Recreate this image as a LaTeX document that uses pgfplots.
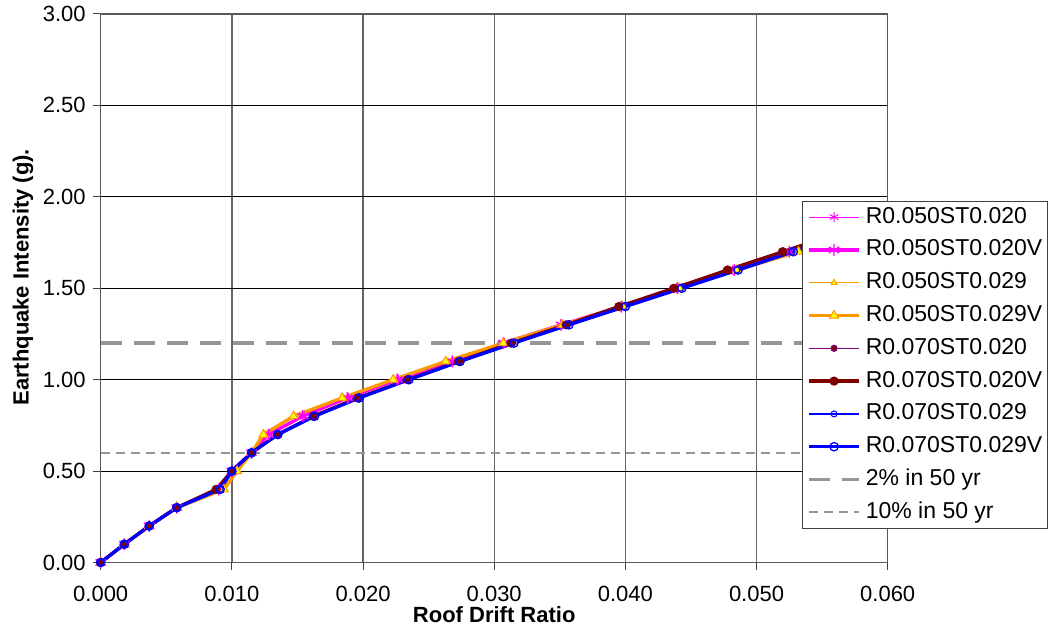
\documentclass[border=0pt]{standalone}
\usepackage{pgfplots}
\usepackage{pgfplotstable}
\pgfplotsset{compat=1.18}
\usepackage{fontspec}
\setmainfont{Liberation Sans}
\definecolor{mag}{RGB}{255,0,255}
\definecolor{org}{RGB}{255,153,0}
\definecolor{yel}{RGB}{255,255,0}
\definecolor{pur}{RGB}{128,0,128}
\definecolor{dred}{RGB}{128,0,0}
\definecolor{blu}{RGB}{0,0,255}
\definecolor{gry}{RGB}{150,150,150}
\pgfplotstableread{
y   a      aV     b      bV     c      cV     d      dV
0.0 0      0      0      0      0      0      0      0
0.1 0.0018 0.0018 0.0018 0.0018 0.0018 0.0018 0.0018 0.0018
0.2 0.0037 0.0037 0.0037 0.0037 0.0037 0.0037 0.0037 0.0037
0.3 0.0058 0.0058 0.0058 0.0058 0.0058 0.0058 0.0058 0.0058
0.4 0.0090 0.0090 0.0093 0.0094 0.0088 0.0088 0.0091 0.0091
0.5 0.0100 0.0100 0.0103 0.0104 0.0099 0.0100 0.0100 0.0100
0.6 0.0115 0.0115 0.0115 0.0115 0.0115 0.0115 0.0115 0.0115
0.7 0.0129 0.0128 0.0125 0.0124 0.0134 0.0135 0.0135 0.0135
0.8 0.0155 0.0154 0.0148 0.0147 0.0162 0.0162 0.0162 0.0163
0.9 0.0189 0.0188 0.0185 0.0184 0.0195 0.0196 0.0196 0.0197
1.0 0.0227 0.0226 0.0224 0.0223 0.0233 0.0234 0.0234 0.0235
1.1 0.0268 0.0268 0.0264 0.0263 0.0272 0.0273 0.0273 0.0274
1.2 0.0308 0.0307 0.0307 0.0307 0.0312 0.0313 0.0314 0.0315
1.3 0.0351 0.0351 0.0352 0.0352 0.0354 0.0355 0.0356 0.0357
1.4 0.0396 0.0397 0.0398 0.0398 0.0395 0.0395 0.0399 0.0400
1.5 0.0439 0.0440 0.0441 0.0441 0.0436 0.0437 0.0442 0.0443
1.6 0.0482 0.0483 0.0485 0.0485 0.0477 0.0478 0.0485 0.0486
1.7 0.0525 0.0525 0.0531 0.0532 0.0519 0.0520 0.0527 0.0528
1.8 0.0567 0.0567 0.0575 0.0575 0.0561 0.0562 0.0569 0.0570
}\drift
\begin{document}
\begin{tikzpicture}
\path[use as bounding box] (-100.7pt,-71.5pt) rectangle (951.3pt,562.5pt);
\begin{axis}[
  at={(0pt,0pt)}, anchor=south west,
  scale only axis, width=787pt, height=548.5pt,
  xmin=0, xmax=0.06, ymin=0, ymax=3,
  xtick={0,0.01,0.02,0.03,0.04,0.05,0.06},
  ytick={0,0.5,1,1.5,2,2.5,3},
  xtick pos=bottom, ytick pos=left,
  scaled x ticks=false, scaled y ticks=false,
  xticklabel style={/pgf/number format/fixed, /pgf/number format/fixed zerofill, /pgf/number format/precision=3, yshift=-13pt},
  yticklabel style={/pgf/number format/fixed, /pgf/number format/fixed zerofill, /pgf/number format/precision=2, xshift=-4pt},
  /pgf/number format/assume math mode=true,
  tick label style={font=\fontsize{22}{25}\selectfont},
  tick align=outside, major tick length=7.5pt,
  tick style={black!75, line width=1pt},
  axis line style={black!65, line width=1.4pt},
  grid=major,
  x grid style={black!60, line width=1.3pt},
  y grid style={black, line width=0.8pt},
  clip=false,
  xlabel={\bfseries Roof Drift Ratio},
  ylabel={\bfseries Earthquake Intensity (g).},
  label style={font=\fontsize{22}{25}\selectfont},
  xlabel style={at={(axis description cs:0.5,0)}, anchor=center, yshift=-52pt},
  ylabel style={at={(axis description cs:-0.0987,0.52)}, anchor=center},
  legend cell align=left,
  legend image code/.code={\draw[mark repeat=2,mark phase=2,#1] plot coordinates {(0pt,0pt) (25pt,0pt) (50pt,0pt)};},
  legend style={at={(0.891,0.6596)}, anchor=north west, draw=black!75, line width=0.8pt, fill=white,
    font=\fontsize{23}{26}\selectfont, inner sep=5pt, row sep=10.8pt,
    nodes={inner sep=0pt, text height=17pt, text depth=5pt}, column sep=5pt},
]
\addplot[mag, line width=1.2pt, mark=asterisk, mark size=5pt, mark options={solid, line width=1pt}] table[x=a, y=y] {\drift};
\addlegendentry{R0.050ST0.020}
\addplot[mag, line width=3.3pt, mark=asterisk, mark size=6pt, mark options={solid, line width=1.3pt}] table[x=aV, y=y] {\drift};
\addlegendentry{R0.050ST0.020V}
\addplot[org, line width=1.2pt, mark=triangle*, mark size=3.5pt, mark options={solid, fill=yel, draw=org, line width=0.8pt}] table[x=b, y=y] {\drift};
\addlegendentry{R0.050ST0.029}
\addplot[org, line width=3.3pt, mark=triangle*, mark size=5pt, mark options={solid, fill=yel, draw=org, line width=1pt}] table[x=bV, y=y] {\drift};
\addlegendentry{R0.050ST0.029V}
\addplot[pur, line width=1.2pt, mark=*, mark size=3pt, mark options={solid, fill=dred, draw=pur}] table[x=c, y=y] {\drift};
\addlegendentry{R0.070ST0.020}
\addplot[dred, line width=3.3pt, mark=*, mark size=4.2pt, mark options={solid, fill=dred, draw=dred, line width=0.8pt}] table[x=cV, y=y] {\drift};
\addlegendentry{R0.070ST0.020V}
\addplot[blu, line width=1.2pt, mark=o, mark size=3pt, mark options={solid, fill=white, draw=blu, line width=1pt}] table[x=d, y=y] {\drift};
\addlegendentry{R0.070ST0.029}
\addplot[blu, line width=3.3pt, mark=o, mark size=4.2pt, mark options={solid, fill=none, draw=blu, line width=1.3pt}] table[x=dV, y=y] {\drift};
\addlegendentry{R0.070ST0.029V}
\addplot[gry, line width=3.5pt, dash pattern=on 21pt off 12pt] coordinates {(0,1.2) (0.06,1.2)};
\addlegendentry{2\% in 50 yr}
\addplot[gry, line width=1.8pt, dash pattern=on 9pt off 6pt] coordinates {(0,0.6) (0.06,0.6)};
\addlegendentry{10\% in 50 yr}
\end{axis}
\end{tikzpicture}
\end{document}
